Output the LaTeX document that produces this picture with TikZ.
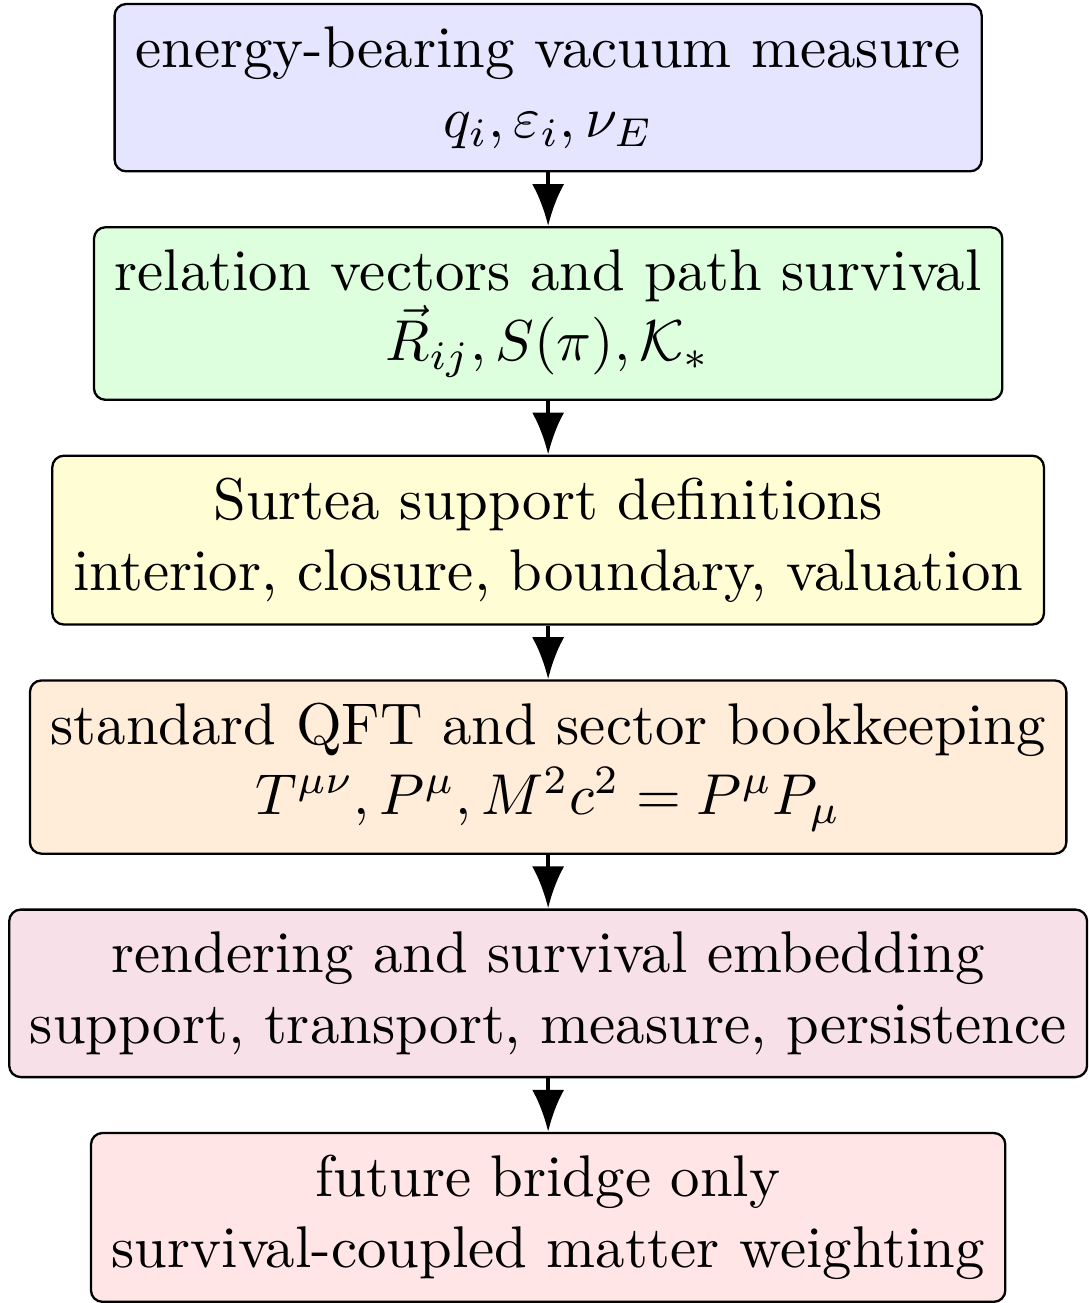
\documentclass[tikz,border=0pt]{standalone}
\usepackage{amsmath, amssymb}
\usetikzlibrary{arrows.meta, positioning}

\begin{document}
\begin{tikzpicture}[node distance=9.3pt,
                    >={Latex[length=7.3pt, width=5.6pt]},
                    stage/.style={draw, rounded corners=2pt, align=center, inner xsep=3.6pt, inner ysep=3.9pt,
                                  font=\fontsize{10.2}{12.2}\selectfont}]
                \node[stage, fill=blue!10] (s1) {energy-bearing vacuum measure\\ $q_i, \varepsilon_i, \nu_E$};
                \node[stage, fill=green!13, below=of s1] (s2) {relation vectors and path survival\\ $\vec{R}_{ij}, S(\pi), \mathcal{K}_*$};
                \node[stage, fill=yellow!17, below=of s2] (s3) {Surtea support definitions\\ interior, closure, boundary, valuation};
                \node[stage, fill=orange!15, below=of s3] (s4) {standard QFT and sector bookkeeping\\ $T^{\mu\nu}, P^\mu, M^2c^2 = P^\mu P_\mu$};
                \node[stage, fill=purple!12, below=of s4] (s5) {rendering and survival embedding\\ support, transport, measure, persistence};
                \node[stage, fill=red!10, below=of s5] (s6) {future bridge only\\ survival-coupled matter weighting};
                \foreach \a/\b in {s1/s2, s2/s3, s3/s4, s4/s5, s5/s6}{
                        \draw[->, thick] (\a) -- (\b);
                    }
                \coordinate (tl) at ([xshift=-1.4pt, yshift=0.5pt]s5.west |- s1.north);
                \coordinate (br) at ([xshift=-2.5pt, yshift=0.3pt]s5.east |- s6.south);
                \useasboundingbox (tl) rectangle (br);
            \end{tikzpicture}
\end{document}
